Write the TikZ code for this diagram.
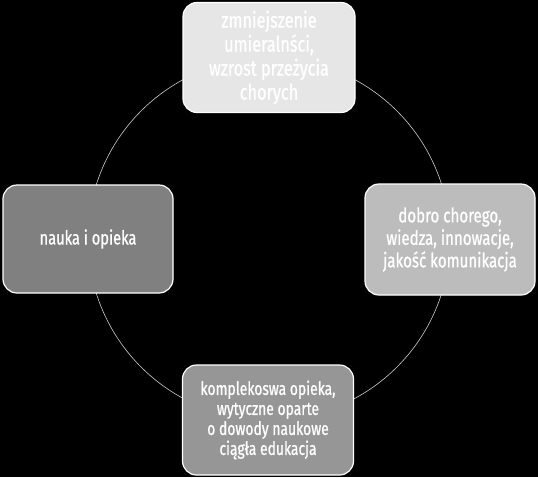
\documentclass[tikz,border=0pt]{standalone}
\usepackage{fontspec}
\setmainfont[FakeStretch=0.755,FakeBold=0.8]{Fira Sans}
\definecolor{ctop}{RGB}{230,230,230}
\definecolor{cright}{RGB}{188,188,188}
\definecolor{cbottom}{RGB}{150,150,150}
\definecolor{cleft}{RGB}{128,128,128}
\begin{document}
\begin{tikzpicture}[x=1pt,y=-1pt,
  box/.style={draw=white,line width=1.2pt,rounded corners=14pt,text=white,align=center,inner sep=0pt},
  ring/.style={draw=white!80!black,line width=0.6pt}]
\fill[black] (0,0) rectangle (538,477);
\useasboundingbox (0,0) rectangle (538,477);
\coordinate (c) at (269,239);
\draw[ring] (c) circle[radius=181];
\node[box,fill=ctop,minimum width=172pt,minimum height=110pt,font=\fontsize{21.6}{24}\selectfont] (top) at (269,57.5)
  {zmniejszenie\\umieralnści,\\wzrost przeżycia\\chorych};
\node[box,fill=cright,minimum width=170pt,minimum height=111pt,font=\fontsize{20}{22.5}\selectfont] (right) at (450,239.5)
  {dobro chorego,\\wiedza, innowacje,\\jakość komunikacja};
\node[box,fill=cbottom,minimum width=171pt,minimum height=110pt,font=\fontsize{18.4}{20}\selectfont] (bottom) at (268,420)
  {komplekoswa opieka,\\wytyczne oparte\\o dowody naukowe\\ciągła edukacja};
\node[box,fill=cleft,minimum width=170pt,minimum height=108pt,font=\fontsize{19.4}{21}\selectfont] (left) at (88,239)
  {nauka i opieka};
\end{tikzpicture}
\end{document}
